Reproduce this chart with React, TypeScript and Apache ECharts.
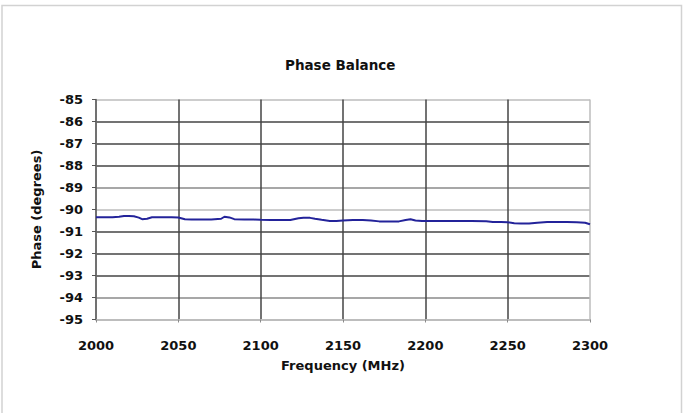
import React, { useEffect, useRef } from "react";
import * as echarts from "echarts";

const title = "Phase Balance";
const xName = "Frequency (MHz)";
const yName = "Phase (degrees)";

const freqMHz = [
  2000, 2005, 2010, 2014, 2017, 2020, 2023, 2026, 2028, 2031, 2034, 2040, 2046, 2050, 2054, 2058,
  2064, 2070, 2076, 2078, 2081, 2084, 2090, 2096, 2100, 2106, 2112, 2118, 2123, 2126, 2130, 2133,
  2137, 2142, 2146, 2150, 2156, 2162, 2167, 2172, 2178, 2184, 2188, 2191, 2194, 2198, 2205, 2212,
  2220, 2228, 2237, 2241, 2246, 2250, 2254, 2258, 2263, 2268, 2274, 2280, 2286, 2292, 2297, 2300,
];
const phaseDeg = [
  -90.35, -90.35, -90.35, -90.33, -90.3, -90.3, -90.31, -90.37, -90.44, -90.42, -90.35, -90.35,
  -90.35, -90.36, -90.44, -90.45, -90.45, -90.45, -90.42, -90.33, -90.36, -90.44, -90.45, -90.46,
  -90.47, -90.48, -90.48, -90.48, -90.4, -90.38, -90.38, -90.42, -90.47, -90.52, -90.52, -90.5,
  -90.48, -90.48, -90.5, -90.54, -90.54, -90.54, -90.48, -90.44, -90.5, -90.52, -90.52, -90.52,
  -90.52, -90.52, -90.53, -90.57, -90.57, -90.58, -90.63, -90.64, -90.64, -90.6, -90.57, -90.57,
  -90.57, -90.58, -90.6, -90.67,
];

const xMin = 2000;
const xMax = 2300;
const xStep = 50;
const yMin = -95;
const yMax = -85;
const yStep = 1;

const FONT = "DejaVu Sans";
const DARK = "#454545";
const MID = "#8a8a8a";
const LIGHT = "#bdbdbd";

export default function App() {
  const ref = useRef<HTMLDivElement>(null);
  useEffect(() => {
    if (!ref.current) return;
    const chart = echarts.init(ref.current, undefined, { renderer: "svg" });
    const data = freqMHz.map((f, i) => [f, phaseDeg[i]]);
    chart.setOption({
      animation: false,
      backgroundColor: "#ffffff",
      title: {
        text: title,
        left: 280,
        top: 53,
        textStyle: { fontFamily: FONT, fontSize: 13.5, fontWeight: "bold", color: "#111" },
      },
      graphic: [
        {
          type: "rect",
          shape: { x: 2, y: 5.5, width: 679.5, height: 430 },
          style: { fill: "none", stroke: "#d2d2d2", lineWidth: 1.5 },
          silent: true,
        },
      ],
      grid: { left: 96, top: 99.5, right: 93, bottom: 93.5 },
      xAxis: {
        type: "value",
        min: xMin,
        max: xMax,
        interval: xStep,
        name: xName,
        nameLocation: "middle",
        nameGap: 39,
        nameTextStyle: { fontFamily: FONT, fontSize: 13, fontWeight: "bold", color: "#111" },
        axisLine: { show: true, onZero: false, lineStyle: { color: LIGHT, width: 2 } },
        axisTick: { show: true, length: 3, lineStyle: { color: MID } },
        axisLabel: {
          margin: 19,
          fontFamily: FONT,
          fontSize: 13,
          fontWeight: "bold",
          color: "#111",
          formatter: (v: number) => String(v),
        },
        splitLine: {
          show: true,
          lineStyle: { color: [DARK, DARK, DARK, DARK, DARK, DARK, LIGHT], width: 1.5 },
        },
      },
      yAxis: {
        type: "value",
        min: yMin,
        max: yMax,
        interval: yStep,
        name: yName,
        nameLocation: "middle",
        nameGap: 53,
        nameTextStyle: { fontFamily: FONT, fontSize: 13, fontWeight: "bold", color: "#111" },
        axisLine: { show: true, onZero: false, lineStyle: { color: "#707070", width: 1.5 } },
        axisTick: { show: true, length: 4, lineStyle: { color: "#555" } },
        axisLabel: {
          margin: 13,
          fontFamily: FONT,
          fontSize: 13,
          fontWeight: "bold",
          color: "#111",
          formatter: (v: number) => String(v),
        },
        splitLine: {
          show: true,
          lineStyle: {
            color: [LIGHT, MID, DARK, DARK, DARK, LIGHT, MID, DARK, DARK, DARK, LIGHT],
            width: 1.5,
          },
        },
      },
      series: [
        {
          type: "line",
          data,
          showSymbol: false,
          symbol: "none",
          lineStyle: { color: "#23239a", width: 2 },
        },
      ],
    });
    return () => chart.dispose();
  }, []);
  return (
    <div
      ref={ref}
      style={{ position: "fixed", left: 0, top: 0, width: 683, height: 413, background: "#fff" }}
    />
  );
}
